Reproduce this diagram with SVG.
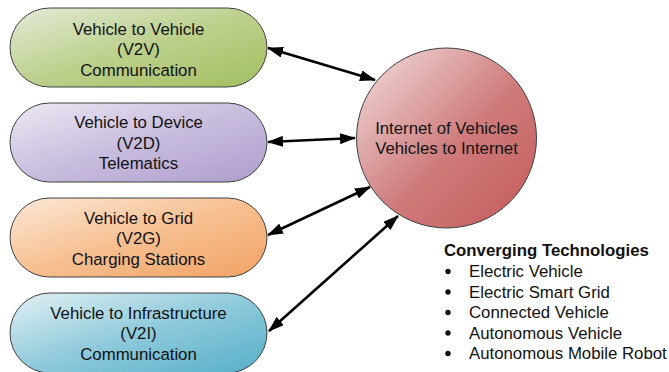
<svg xmlns="http://www.w3.org/2000/svg" width="669" height="372" viewBox="0 0 669 372">
<style>
.node{stroke:#404040;stroke-width:1}
.t{font-family:"Liberation Sans",Arial,sans-serif;font-size:16.8px;fill:#111;text-anchor:middle}
.lg{font-family:"Liberation Sans",Arial,sans-serif;font-size:16.8px;fill:#111}
.b{font-weight:bold}
.bul{fill:#111}
.c{stroke:#000;stroke-width:2.6;fill:none;marker-start:url(#ah);marker-end:url(#ah)}
</style>
<defs>
<marker id="ah" viewBox="0 0 16 11" refX="15" refY="5.5" markerWidth="16" markerHeight="11" markerUnits="userSpaceOnUse" orient="auto-start-reverse">
<path d="M0,0 L16,5.5 L0,11 Z" fill="#000"/>
</marker>
<linearGradient id="gG" x1="0" y1="0" x2="1" y2="1"><stop offset="0" stop-color="#e4ead8"/><stop offset="0.5" stop-color="#bcd08c"/><stop offset="1" stop-color="#a3be60"/></linearGradient>
<linearGradient id="gP" x1="0" y1="0" x2="1" y2="1"><stop offset="0" stop-color="#ece8f2"/><stop offset="0.5" stop-color="#c8bcde"/><stop offset="1" stop-color="#ae9dcc"/></linearGradient>
<linearGradient id="gO" x1="0" y1="0" x2="1" y2="1"><stop offset="0" stop-color="#fbe8d8"/><stop offset="0.5" stop-color="#f7bf90"/><stop offset="1" stop-color="#f2a264"/></linearGradient>
<linearGradient id="gB" x1="0" y1="0" x2="1" y2="1"><stop offset="0" stop-color="#e2f0f4"/><stop offset="0.5" stop-color="#8fcadb"/><stop offset="1" stop-color="#55afc8"/></linearGradient>
<linearGradient id="gR" x1="0" y1="0" x2="1" y2="1"><stop offset="0" stop-color="#f3e0e0"/><stop offset="0.55" stop-color="#cf7a7a"/><stop offset="1" stop-color="#c45a5a"/></linearGradient>
</defs>
<g id="connectors">
<line class="c" x1="268" y1="48" x2="375" y2="80"/>
<line class="c" x1="268" y1="142" x2="355" y2="138"/>
<line class="c" x1="268" y1="235" x2="370" y2="187"/>
<line class="c" x1="269" y1="331" x2="398" y2="216"/>
</g>
<g id="v2v">
<rect class="node" x="10" y="8" width="257" height="79" rx="39.5" fill="url(#gG)"/>
<text class="t" x="138.5" y="34.5">Vehicle to Vehicle</text>
<text class="t" x="138.5" y="55">(V2V)</text>
<text class="t" x="138.5" y="75.5">Communication</text>
</g>
<g id="v2d">
<rect class="node" x="10" y="103" width="257" height="79" rx="39.5" fill="url(#gP)"/>
<text class="t" x="138.5" y="128">Vehicle to Device</text>
<text class="t" x="138.5" y="148.5">(V2D)</text>
<text class="t" x="138.5" y="169">Telematics</text>
</g>
<g id="v2g">
<rect class="node" x="10" y="198" width="257" height="79" rx="39.5" fill="url(#gO)"/>
<text class="t" x="138.5" y="223.5">Vehicle to Grid</text>
<text class="t" x="138.5" y="244">(V2G)</text>
<text class="t" x="138.5" y="264.5">Charging Stations</text>
</g>
<g id="v2i">
<rect class="node" x="10" y="293" width="257" height="80" rx="40" fill="url(#gB)"/>
<text class="t" x="138.5" y="318.5">Vehicle to Infrastructure</text>
<text class="t" x="138.5" y="339">(V2I)</text>
<text class="t" x="138.5" y="359.5">Communication</text>
</g>
<g id="iov">
<circle class="node" cx="446.5" cy="138" r="90" fill="url(#gR)"/>
<text class="t" x="446.5" y="134">Internet of Vehicles</text>
<text class="t" x="446.5" y="154">Vehicles to Internet</text>
</g>
<g id="legend">
<text class="lg b" x="444" y="256">Converging Technologies</text>
<circle class="bul" cx="448" cy="271.5" r="2.7"/>
<circle class="bul" cx="448" cy="292" r="2.7"/>
<circle class="bul" cx="448" cy="312.5" r="2.7"/>
<circle class="bul" cx="448" cy="333" r="2.7"/>
<circle class="bul" cx="448" cy="353.5" r="2.7"/>
<g class="lg">
<text x="469" y="277">Electric Vehicle</text>
<text x="469" y="297.5">Electric Smart Grid</text>
<text x="469" y="318">Connected Vehicle</text>
<text x="469" y="338.5">Autonomous Vehicle</text>
<text x="469" y="359">Autonomous Mobile Robot</text>
</g>
</g>
</svg>
